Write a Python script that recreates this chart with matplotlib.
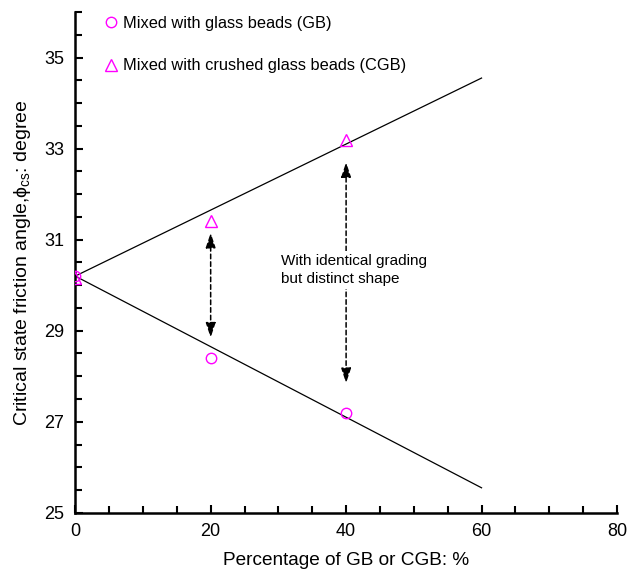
import numpy as np
import matplotlib.pyplot as plt
from matplotlib.ticker import MultipleLocator

plt.rcParams['font.family'] = ['Liberation Sans', 'DejaVu Sans']
plt.rcParams['mathtext.fontset'] = 'custom'
plt.rcParams['mathtext.rm'] = 'Liberation Sans'
plt.rcParams['mathtext.it'] = 'Liberation Sans:italic'

# measured points
pct = [0, 20, 40]
gb_angle = [30.2, 28.4, 27.2]
cgb_angle = [30.15, 31.4, 33.2]

# trend lines
trend_x = [0, 60]
cgb_trend = [30.2, 34.55]
gb_trend = [30.2, 25.55]

# double arrows (x, top, bottom)
arrow_x = [20, 40]
arrow_top = [31.15, 32.7]
arrow_bot = [28.85, 27.85]

fig = plt.figure(figsize=(6.27, 5.73), dpi=100)
ax = fig.add_axes([0.12, 0.105, 0.864, 0.874])

ax.plot(trend_x, cgb_trend, color='black', lw=0.9, zorder=2)
ax.plot(trend_x, gb_trend, color='black', lw=0.9, zorder=2)
ax.plot(pct, gb_angle, 'o', mfc='none', mec='magenta', ms=7.5, mew=1.0,
        ls='none', label='Mixed with glass beads (GB)', zorder=3)
ax.plot(pct, cgb_angle, '^', mfc='none', mec='magenta', ms=8, mew=1.0,
        ls='none', label='Mixed with crushed glass beads (CGB)', zorder=3)

for x, t, b in zip(arrow_x, arrow_top, arrow_bot):
    ax.annotate('', xy=(x, t), xytext=(x, b),
                arrowprops=dict(arrowstyle='<|-|>,head_length=0.9,head_width=0.3',
                                color='black', lw=1.1, ls=(0, (3, 2)),
                                shrinkA=0, shrinkB=0), zorder=1)

ax.text(30.4, 30.33, 'With identical grading\nbut distinct shape', fontsize=11,
        va='center', ha='left', linespacing=1.35,
        bbox=dict(facecolor='white', edgecolor='none', pad=2), zorder=4)

ax.set_xlim(0, 80)
ax.set_ylim(25, 36)
ax.set_xticks([0, 20, 40, 60, 80])
ax.set_yticks([25, 27, 29, 31, 33, 35])
ax.xaxis.set_minor_locator(MultipleLocator(5))
ax.yaxis.set_minor_locator(MultipleLocator(0.5))
ax.tick_params(which='both', direction='in', labelsize=13, width=1.5)
ax.tick_params(which='major', length=6)
ax.tick_params(which='minor', length=5)
ax.tick_params(axis='x', pad=7)
ax.tick_params(axis='y', pad=8)
for s in ['top', 'right']:
    ax.spines[s].set_visible(False)
for s in ['left', 'bottom']:
    ax.spines[s].set_linewidth(1.8)

ax.set_xlabel('Percentage of GB or CGB: %', fontsize=13.7, labelpad=9)
ax.set_ylabel(r'Critical state friction angle,$\mathregular{\phi_{cs}}$: degree',
              fontsize=14, labelpad=8)

ax.legend(loc='upper left', bbox_to_anchor=(0.042, 1.006), frameon=False,
          fontsize=11.8, handlelength=0.8, handletextpad=0.3, labelspacing=1.7,
          borderaxespad=0)

fig.savefig('out.png', dpi=100)
